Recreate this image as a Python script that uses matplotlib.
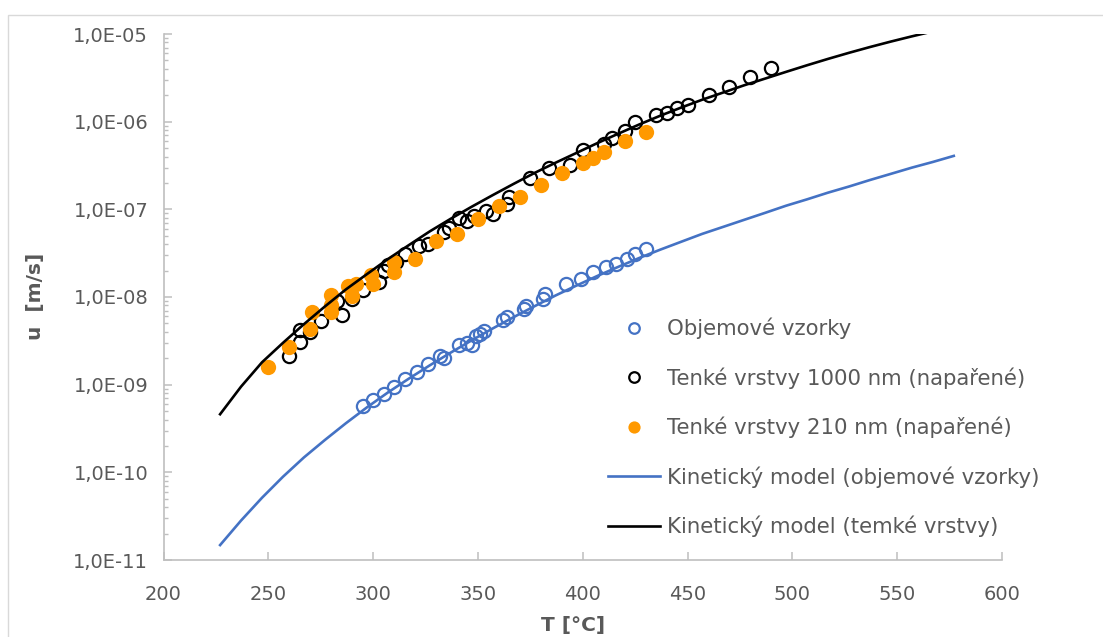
import numpy as np
import matplotlib.pyplot as plt
from matplotlib.ticker import FuncFormatter, LogLocator, MultipleLocator, NullFormatter
from matplotlib.patches import Rectangle

# objemove vzorky (bulk samples)
T_bulk = [295, 300, 305, 310, 315, 321, 326, 332, 334, 341, 345, 347, 349, 351, 353,
          362, 364, 372, 373, 381, 382, 392, 399, 405, 411, 416, 421, 425, 430]
u_bulk = [5.7e-10, 6.6e-10, 7.8e-10, 9.3e-10, 1.17e-9, 1.41e-9, 1.74e-9, 2.15e-9, 2.0e-9,
          2.8e-9, 3.0e-9, 2.8e-9, 3.6e-9, 3.8e-9, 4.1e-9,
          5.4e-9, 5.9e-9, 7.3e-9, 7.9e-9, 9.5e-9, 1.08e-8, 1.41e-8, 1.6e-8, 1.91e-8,
          2.18e-8, 2.37e-8, 2.7e-8, 3.1e-8, 3.5e-8]

# tenke vrstvy 1000 nm
T_1000 = [260, 265, 265, 270, 275, 283, 285, 290, 295, 303, 305, 307, 311, 315, 322, 326,
          334, 336, 341, 345, 348, 354, 357, 364, 365, 375, 384, 394, 400, 410, 414, 420,
          425, 435, 440, 445, 450, 460, 470, 480, 490]
u_1000 = [2.1e-9, 3.1e-9, 4.2e-9, 4.0e-9, 5.3e-9, 9.0e-9, 6.3e-9, 9.5e-9, 1.2e-8, 1.5e-8,
          2.0e-8, 2.3e-8, 2.5e-8, 3.1e-8, 3.8e-8, 4.0e-8,
          5.5e-8, 6.2e-8, 8.0e-8, 7.3e-8, 8.3e-8, 9.5e-8, 8.8e-8, 1.15e-7, 1.4e-7, 2.3e-7,
          3.0e-7, 3.2e-7, 4.8e-7, 5.6e-7, 6.5e-7, 7.8e-7,
          1.0e-6, 1.2e-6, 1.27e-6, 1.45e-6, 1.55e-6, 2.0e-6, 2.5e-6, 3.2e-6, 4.1e-6]

# tenke vrstvy 210 nm
T_210 = [250, 260, 270, 271, 280, 280, 280, 288, 290, 292, 299, 300, 310, 310, 320, 330,
         340, 350, 360, 370, 380, 390, 400, 405, 410, 420, 430]
u_210 = [1.6e-9, 2.7e-9, 4.3e-9, 6.8e-9, 6.8e-9, 8.2e-9, 1.06e-8, 1.33e-8, 1.02e-8, 1.4e-8,
         1.78e-8, 1.4e-8, 2.5e-8, 1.95e-8, 2.7e-8, 4.4e-8,
         5.3e-8, 7.8e-8, 1.1e-7, 1.4e-7, 1.9e-7, 2.6e-7, 3.4e-7, 3.9e-7, 4.5e-7, 6.0e-7, 7.7e-7]

# kineticky model (500 K - 850 K)
T_model = [227, 237, 247, 257, 267, 277, 287, 297, 307, 317, 327, 337, 347, 357, 367, 377,
           387, 397, 407, 417, 427, 437, 447, 457, 467, 477, 487, 497, 507, 517, 527, 537,
           547, 557, 567, 577]
u_model_bulk = [1.48e-11, 2.82e-11, 5.13e-11, 8.91e-11, 1.48e-10, 2.34e-10, 3.63e-10,
                5.50e-10, 8.13e-10, 1.17e-9, 1.66e-9, 2.32e-9, 3.20e-9, 4.37e-9, 5.89e-9,
                7.85e-9, 1.04e-8, 1.35e-8, 1.74e-8, 2.21e-8, 2.79e-8, 3.47e-8, 4.27e-8,
                5.25e-8, 6.31e-8, 7.59e-8, 9.12e-8, 1.10e-7, 1.30e-7, 1.55e-7, 1.82e-7,
                2.16e-7, 2.54e-7, 2.99e-7, 3.47e-7, 4.07e-7]
u_model_thin = [4.6e-10, 9.5e-10, 1.8e-9, 3.0e-9, 4.9e-9, 7.8e-9, 1.22e-8, 1.82e-8,
                2.7e-8, 3.9e-8, 5.6e-8, 7.8e-8, 1.07e-7, 1.45e-7, 1.95e-7, 2.6e-7,
                3.4e-7, 4.4e-7, 5.7e-7, 7.3e-7, 9.3e-7, 1.17e-6, 1.45e-6, 1.78e-6,
                2.15e-6, 2.6e-6, 3.1e-6, 3.7e-6, 4.4e-6, 5.2e-6, 6.1e-6, 7.1e-6,
                8.2e-6, 9.4e-6, 1.07e-5, 1.22e-5]

grey = '#595959'
blue = '#4472C4'
orange = '#FF9900'

fig = plt.figure(figsize=(11.03, 6.37), dpi=100)
ax = fig.add_axes([163.5 / 1103, 1 - 560 / 637, (1002 - 163.5) / 1103, (560 - 34) / 637])

ax.plot(T_bulk, u_bulk, 'o', ms=9.5, mfc='none', mec=blue, mew=1.6, label='Objemové vzorky')
ax.plot(T_1000, u_1000, 'o', ms=9.5, mfc='none', mec='black', mew=1.6,
        label='Tenké vrstvy 1000 nm (napařené)')
ax.plot(T_210, u_210, 'o', ms=11, mfc=orange, mec=orange, mew=0,
        label='Tenké vrstvy 210 nm (napařené)')
ax.plot(T_model, u_model_bulk, '-', color=blue, lw=1.9, label='Kinetický model (objemové vzorky)')
ax.plot(T_model, u_model_thin, '-', color='black', lw=1.9, label='Kinetický model (temké vrstvy)')

ax.set_yscale('log')
ax.set_xlim(200, 600)
ax.set_ylim(1e-11, 1e-5)
ax.xaxis.set_major_locator(MultipleLocator(50))
ax.yaxis.set_major_locator(LogLocator(base=10, numticks=20))
ax.yaxis.set_minor_locator(LogLocator(base=10, subs=np.arange(2, 10), numticks=20))
ax.yaxis.set_minor_formatter(NullFormatter())
ax.yaxis.set_major_formatter(FuncFormatter(lambda v, p: '1,0E-%02d' % round(-np.log10(v))))

for s in ['top', 'right']:
    ax.spines[s].set_visible(False)
for s in ['left', 'bottom']:
    ax.spines[s].set_color('#BFBFBF')
    ax.spines[s].set_linewidth(1.2)

ax.tick_params(axis='x', which='major', direction='in', length=6, width=1.1, color='#BFBFBF',
               labelsize=14, labelcolor=grey, pad=18)
ax.tick_params(axis='y', which='major', direction='in', length=5.5, width=1.1, color='#BFBFBF',
               labelsize=14, labelcolor=grey, pad=11)
ax.tick_params(axis='y', which='minor', direction='in', length=3, width=1.0, color='#BFBFBF')

fig.text(35 / 1103, 1 - 296 / 637, 'u  [m/s]', rotation=90, ha='center', va='center',
         fontsize=14.5, fontweight='bold', color=grey)
fig.text(573 / 1103, 1 - 626 / 637, 'T [°C]', ha='center', va='center',
         fontsize=14.5, fontweight='bold', color=grey)

leg = ax.legend(loc='center left', bbox_to_anchor=((608 - 163.5) / 838.5, 1 - (427.5 - 34) / 526),
                frameon=False, fontsize=15.3, handlelength=2.45, handletextpad=0.33,
                labelspacing=1.32, borderpad=0, borderaxespad=0, markerscale=0.8)
for t in leg.get_texts():
    t.set_color(grey)

# chart area border (partly cropped)
fig.add_artist(Rectangle((8 / 1103, -0.5), 1.5, 1.5 - 15 / 637, transform=fig.transFigure,
                         fill=False, edgecolor='#D9D9D9', lw=1.0))

fig.savefig('out.png', dpi=100)
